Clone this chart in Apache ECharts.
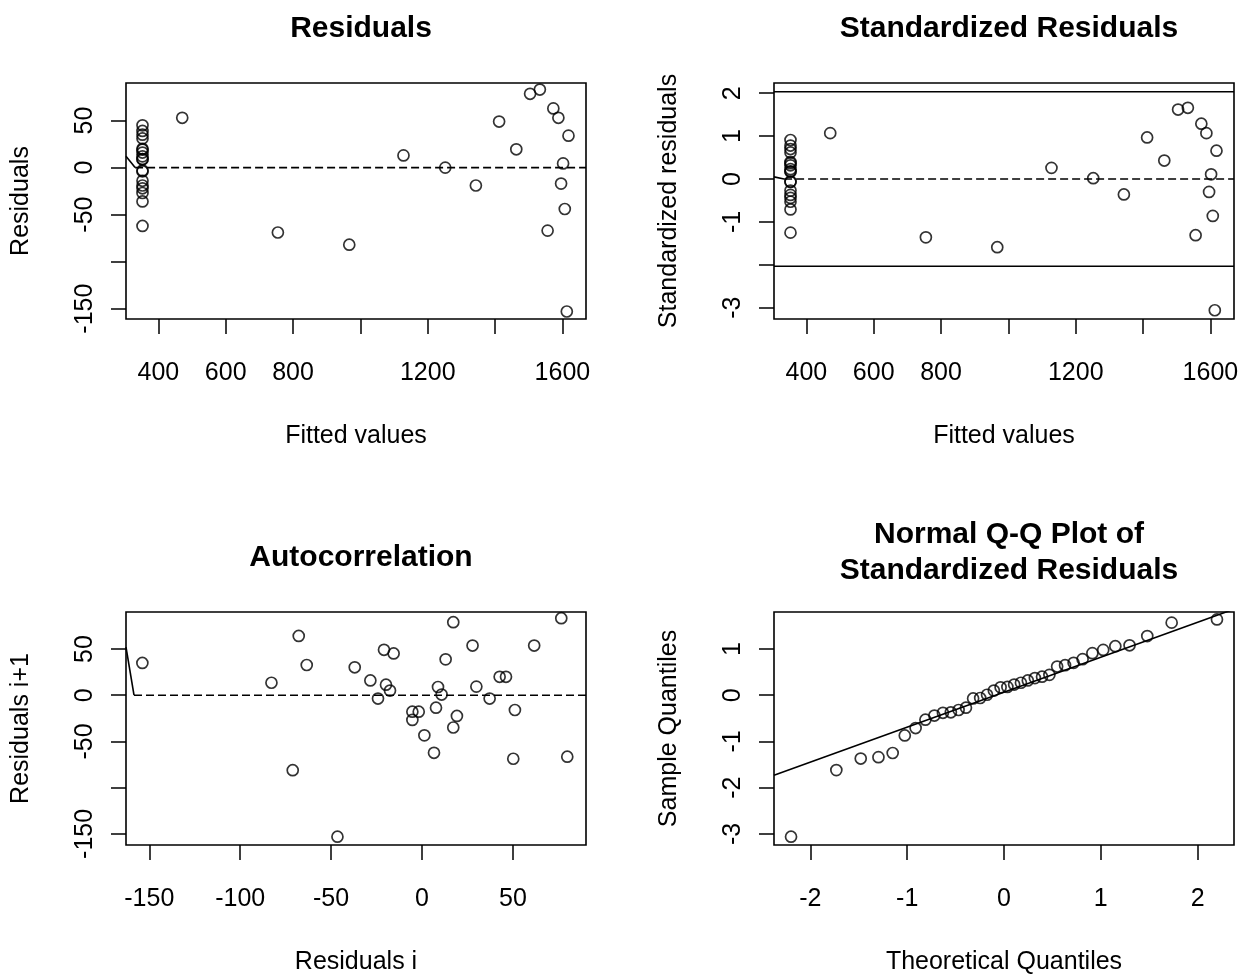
<!DOCTYPE html>
<html>
<head>
<meta charset="utf-8">
<script src="https://cdn.jsdelivr.net/npm/echarts@6/dist/echarts.min.js"></script>
<style>
html, body { margin: 0; padding: 0; background: #fff; }
#main { width: 1247px; height: 976px; }
</style>
</head>
<body>
<div id="main"></div>
<script>
// residual diagnostics, values
var fitted = [353, 353, 353, 353, 353, 353, 353, 353, 353, 353, 353, 353, 353, 353, 353, 353, 353, 353,
	471, 755, 967, 1128, 1252, 1343, 1412, 1463, 1504, 1533, 1573, 1588, 1618, 1602, 1596, 1607, 1556, 1613];
var resid = [-62, -36, -27, -22, -19, -14, -4, -3, 9, 9, 12, 16, 19, 20, 31, 35, 39, 45,
	53, -69, -82, 13, 0, -19, 49, 19.5, 78.5, 83, 63, 53, 34, 4.5, -17, -44, -67, -153];
var stdResid = [-1.25, -0.71, -0.53, -0.44, -0.37, -0.27, -0.07, -0.06, 0.17, 0.18, 0.23, 0.32, 0.37, 0.40, 0.62, 0.70, 0.78, 0.91,
	1.07, -1.36, -1.59, 0.26, 0.02, -0.36, 0.97, 0.43, 1.62, 1.66, 1.29, 1.07, 0.66, 0.11, -0.30, -0.86, -1.31, -3.06];

// residual i vs residual i+1
var lagX = [-153.8, -67.8, -63.4, -82.8, -71.1, -46.5, -37.0, -28.4, -20.9, -15.6, -19.8, -17.6, -24.2, -5.3, -1.8, -5.3, 1.3, 6.6,
	7.7, 8.8, 10.8, 13.0, 17.2, 17.2, 19.2, 27.8, 29.9, 37.2, 42.7, 46.2, 51.1, 50.2, 61.7, 76.6, 79.9];
var lagY = [34.9, 64.1, 32.7, 13.5, -81.1, -153.0, 30.2, 16.0, 49.1, 45.2, 11.4, 5.0, -3.6, -17.8, -17.8, -26.7, -43.4, -62.3,
	-13.5, 8.9, 0.7, 38.8, 79.0, -34.9, -22.4, 53.7, 9.3, -3.6, 19.9, 19.9, -16.0, -68.7, 53.7, 83.3, -66.5];

// normal Q-Q
var qqTheo = [-2.200, -1.732, -1.480, -1.297, -1.150, -1.025, -0.913, -0.812, -0.719, -0.631, -0.549, -0.469, -0.393, -0.319, -0.246, -0.175, -0.105, -0.035,
	0.035, 0.105, 0.175, 0.246, 0.319, 0.393, 0.469, 0.549, 0.631, 0.719, 0.812, 0.913, 1.025, 1.150, 1.297, 1.480, 1.732, 2.200];
var qqSample = [-3.06, -1.62, -1.37, -1.34, -1.25, -0.87, -0.71, -0.53, -0.44, -0.38, -0.37, -0.32, -0.27, -0.07, -0.06, 0.01, 0.10, 0.17,
	0.18, 0.23, 0.27, 0.32, 0.37, 0.40, 0.44, 0.62, 0.65, 0.70, 0.78, 0.91, 0.98, 1.06, 1.08, 1.28, 1.57, 1.64];
var qqLine = [[-2.376, -1.73], [2.376, 1.862]];

var tBound = 2.035;

// little stray segments at the left edge + zero lines
var seg1 = [[304, 12.1], [331, 0]];
var seg2 = [[304, 0.05], [334, 0]];
var seg3 = [[-162.8, 52], [-158.4, 0]];
var zero1 = [[331, 0], [1670, 0]];
var zero2 = [[334, 0], [1670, 0]];
var zero3 = [[-158.4, 0], [90.2, 0]];

// axis ticks and the labels R kept
var fitTicks = [400, 600, 800, 1000, 1200, 1400, 1600];
var fitLabels = [400, 600, 800, 1200, 1600];
var resTicks = [-150, -100, -50, 0, 50];
var resLabels = [-150, -50, 0, 50];
var stdTicks = [-3, -2, -1, 0, 1, 2];
var stdLabels = [-3, -1, 0, 1, 2];
var qxTicks = [-2, -1, 0, 1, 2];
var qyTicks = [-3, -2, -1, 0, 1];

var chart = echarts.init(document.getElementById('main'));
var FONT = 'Liberation Sans, Arial, sans-serif';

function xAx(idx, min, max, ticks, labels, name) {
	return {
		type: 'value', gridIndex: idx, min: min, max: max,
		name: name, nameLocation: 'middle', nameGap: 105,
		nameTextStyle: { fontSize: 25, color: '#000', fontFamily: FONT },
		axisLine: { show: false, onZero: false },
		axisTick: { show: true, inside: false, length: 15, customValues: ticks, lineStyle: { color: '#000', width: 1.5 } },
		axisLabel: { show: true, margin: 42, customValues: labels, fontSize: 25, color: '#000', fontFamily: FONT,
			formatter: function (v) { return String(v); } },
		splitLine: { show: false }
	};
}
function yAx(idx, min, max, ticks, labels, name) {
	return {
		type: 'value', gridIndex: idx, min: min, max: max,
		name: name, nameLocation: 'middle', nameGap: 92,
		nameTextStyle: { fontSize: 25, color: '#000', fontFamily: FONT },
		axisLine: { show: false, onZero: false },
		axisTick: { show: true, inside: false, length: 15, customValues: ticks, lineStyle: { color: '#000', width: 1.5 } },
		axisLabel: { show: true, rotate: 90, margin: 28, customValues: labels, fontSize: 25, color: '#000', fontFamily: FONT,
			formatter: function (v) { return String(v); } },
		splitLine: { show: false }
	};
}
function pts(xs, ys) {
	var out = [];
	for (var i = 0; i < xs.length; i++) out.push([xs[i], ys[i]]);
	return out;
}
function scatter(idx, data) {
	return {
		type: 'scatter', xAxisIndex: idx, yAxisIndex: idx, data: data,
		symbol: 'circle', symbolSize: 11,
		itemStyle: { color: 'rgba(0,0,0,0)', borderColor: '#000', borderWidth: 1.7 },
		emphasis: { disabled: true }, z: 5
	};
}
function line(idx, data, dashed) {
	return {
		type: 'line', xAxisIndex: idx, yAxisIndex: idx, data: data,
		showSymbol: false, clip: true, silent: true,
		lineStyle: { color: '#000', width: 1.6, type: dashed ? [8, 4] : 'solid' },
		z: 4
	};
}

var titleStyle = { fontSize: 30, fontWeight: 'bold', color: '#000', fontFamily: FONT, lineHeight: 36 };
var gridBox = { show: true, borderColor: '#000', borderWidth: 1.6, backgroundColor: 'transparent' };

var option = {
	animation: false,
	backgroundColor: '#fff',
	title: [
		{ text: 'Residuals', left: 356, top: 6, textAlign: 'center', textStyle: titleStyle },
		{ text: 'Standardized Residuals', left: 1004, top: 6, textAlign: 'center', textStyle: titleStyle },
		{ text: 'Autocorrelation', left: 356, top: 535, textAlign: 'center', textStyle: titleStyle },
		{ text: 'Normal Q-Q Plot of\nStandardized Residuals', left: 1004, top: 512, textAlign: 'center', textStyle: titleStyle }
	],
	grid: [
		Object.assign({ left: 126, top: 83, width: 460, height: 236 }, gridBox),
		Object.assign({ left: 774, top: 83, width: 460, height: 236 }, gridBox),
		Object.assign({ left: 126, top: 612, width: 460, height: 237 }, gridBox),
		Object.assign({ left: 774, top: 612, width: 460, height: 237 }, gridBox)
	],
	xAxis: [
		xAx(0, 304, 1670, fitTicks, fitLabels, 'Fitted values'),
		xAx(1, 304, 1670, fitTicks, fitLabels, 'Fitted values'),
		xAx(2, -162.8, 90.2, resTicks, resTicks, 'Residuals i'),
		xAx(3, -2.376, 2.376, qxTicks, qxTicks, 'Theoretical Quantiles')
	],
	yAxis: [
		yAx(0, -161, 90, resTicks, resLabels, 'Residuals'),
		yAx(1, -3.264, 2.239, stdTicks, stdLabels, 'Standardized residuals'),
		yAx(2, -162, 90, resTicks, resLabels, 'Residuals i+1'),
		yAx(3, -3.24, 1.80, qyTicks, qyTicks, 'Sample Quantiles')
	],
	series: [
		scatter(0, pts(fitted, resid)),
		line(0, zero1, true),
		line(0, seg1, false),

		scatter(1, pts(fitted, stdResid)),
		line(1, zero2, true),
		line(1, seg2, false),
		line(1, [[304, tBound], [1670, tBound]], false),
		line(1, [[304, -tBound], [1670, -tBound]], false),

		scatter(2, pts(lagX, lagY)),
		line(2, zero3, true),
		line(2, seg3, false),

		scatter(3, pts(qqTheo, qqSample)),
		line(3, qqLine, false)
	]
};

chart.setOption(option);
</script>
</body>
</html>
